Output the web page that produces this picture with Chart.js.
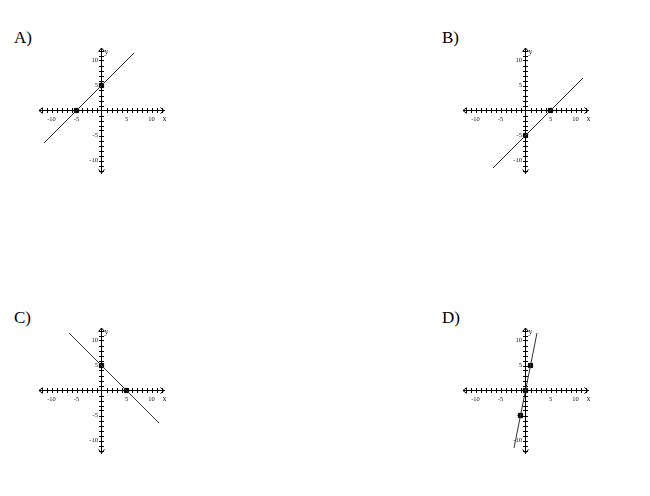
<!DOCTYPE html>
<html><head><meta charset="utf-8">
<script src="https://cdn.jsdelivr.net/npm/chart.js@4"></script>
<style>
html,body{margin:0;padding:0;background:#fff;}
body{width:650px;height:496px;position:relative;overflow:hidden;}
.lbl{position:absolute;font-family:"Liberation Serif","Times New Roman",serif;font-size:17px;color:#000;line-height:17px;}
canvas{position:absolute;}
</style></head><body>
<div class="lbl" style="left:14px;top:29px">A)</div>
<div class="lbl" style="left:442px;top:29px">B)</div>
<div class="lbl" style="left:14px;top:309px">C)</div>
<div class="lbl" style="left:442px;top:309px">D)</div>
<canvas id="cA" width="145" height="145" style="left:29px;top:38px"></canvas>
<canvas id="cB" width="145" height="145" style="left:453px;top:38px"></canvas>
<canvas id="cC" width="145" height="145" style="left:29px;top:318px"></canvas>
<canvas id="cD" width="145" height="145" style="left:453px;top:318px"></canvas>
<script>
// Data
const panelIds = ['cA', 'cB', 'cC', 'cD'];
const axisMin = -12.5;
const axisMax = 12.5;
const xTickLabels = [-10, -5, 5, 10];
const yTickLabels = [-10, -5, 5, 10];
const minorTicks = [-12,-11,-10,-9,-8,-7,-6,-5,-4,-3,-2,-1,1,2,3,4,5,6,7,8,9,10,11,12];

const lineA = [{x: -11.5, y: -6.5}, {x: 6.5, y: 11.5}];
const pointsA = [{x: -5, y: 0}, {x: 0, y: 5}];
const lineB = [{x: -6.5, y: -11.5}, {x: 11.5, y: 6.5}];
const pointsB = [{x: 5, y: 0}, {x: 0, y: -5}];
const lineC = [{x: -6.5, y: 11.5}, {x: 11.5, y: -6.5}];
const pointsC = [{x: 0, y: 5}, {x: 5, y: 0}];
const lineD = [{x: -2.3, y: -11.5}, {x: 2.3, y: 11.5}];
const pointsD = [{x: -1, y: -5}, {x: 0, y: 0}, {x: 1, y: 5}];

const lines = [lineA, lineB, lineC, lineD];
const points = [pointsA, pointsB, pointsC, pointsD];

const axesPlugin = {
  id: 'crossAxes',
  beforeDatasetsDraw(chart) {
    const ctx = chart.ctx;
    const xs = chart.scales.x, ys = chart.scales.y;
    const x0 = xs.getPixelForValue(0), y0 = ys.getPixelForValue(0);
    const xl = xs.getPixelForValue(axisMin), xr = xs.getPixelForValue(axisMax);
    const yt = ys.getPixelForValue(axisMax), yb = ys.getPixelForValue(axisMin);
    ctx.save();
    ctx.strokeStyle = '#000';
    ctx.lineWidth = 1;
    ctx.beginPath();
    minorTicks.forEach(v => {
      const px = Math.round(xs.getPixelForValue(v)) + 0.5;
      ctx.moveTo(px, y0 - 2.5); ctx.lineTo(px, y0 + 2.5);
      const py = Math.round(ys.getPixelForValue(v)) + 0.5;
      ctx.moveTo(x0 - 2.5, py); ctx.lineTo(x0 + 2.5, py);
    });
    ctx.stroke();
    // arrowheads
    ctx.beginPath();
    ctx.moveTo(xr - 3.5, y0 - 3); ctx.lineTo(xr, y0); ctx.lineTo(xr - 3.5, y0 + 3);
    ctx.moveTo(xl + 3.5, y0 - 3); ctx.lineTo(xl, y0); ctx.lineTo(xl + 3.5, y0 + 3);
    ctx.moveTo(x0 - 3, yt + 3.5); ctx.lineTo(x0, yt); ctx.lineTo(x0 + 3, yt + 3.5);
    ctx.moveTo(x0 - 3, yb - 3.5); ctx.lineTo(x0, yb); ctx.lineTo(x0 + 3, yb - 3.5);
    ctx.stroke();
    ctx.fillStyle = '#111';
    ctx.font = '6.5px "Liberation Serif", serif';
    ctx.textBaseline = 'middle';
    ctx.textAlign = 'center';
    xTickLabels.forEach(v => ctx.fillText(String(v), xs.getPixelForValue(v), y0 + 8.5));
    ctx.textAlign = 'right';
    yTickLabels.forEach(v => ctx.fillText(String(v), x0 - 3.5, ys.getPixelForValue(v)));
    ctx.font = '8px "Liberation Serif", serif';
    ctx.textAlign = 'left';
    ctx.fillText('y', x0 + 3, yt + 4);
    ctx.fillText('x', xr - 1.5, y0 + 8.5);
    ctx.restore();
  }
};

function makeChart(i) {
  const ctx = document.getElementById(panelIds[i]).getContext('2d');
  new Chart(ctx, {
    type: 'scatter',
    data: {
      datasets: [
        {
          data: lines[i],
          showLine: true,
          borderColor: '#333',
          borderWidth: 1,
          pointRadius: 0,
          fill: false
        },
        {
          data: points[i],
          pointStyle: 'rect',
          pointRadius: 3,
          backgroundColor: '#000',
          borderColor: '#000',
          borderWidth: 1
        }
      ]
    },
    options: {
      responsive: false,
      animation: false,
      layout: {padding: 10},
      plugins: {legend: {display: false}, tooltip: {enabled: false}},
      scales: {
        x: {
          type: 'linear',
          min: axisMin, max: axisMax,
          position: {y: 0},
          border: {display: true, color: '#000', width: 1},
          grid: {display: false},
          afterBuildTicks: axis => { axis.ticks = xTickLabels.map(v => ({value: v})); },
          ticks: {display: false}
        },
        y: {
          type: 'linear',
          min: axisMin, max: axisMax,
          position: {x: 0},
          border: {display: true, color: '#000', width: 1},
          grid: {display: false},
          afterBuildTicks: axis => { axis.ticks = yTickLabels.map(v => ({value: v})); },
          ticks: {display: false}
        }
      }
    },
    plugins: [axesPlugin]
  });
}
for (let i = 0; i < 4; i++) makeChart(i);
</script>
</body></html>
